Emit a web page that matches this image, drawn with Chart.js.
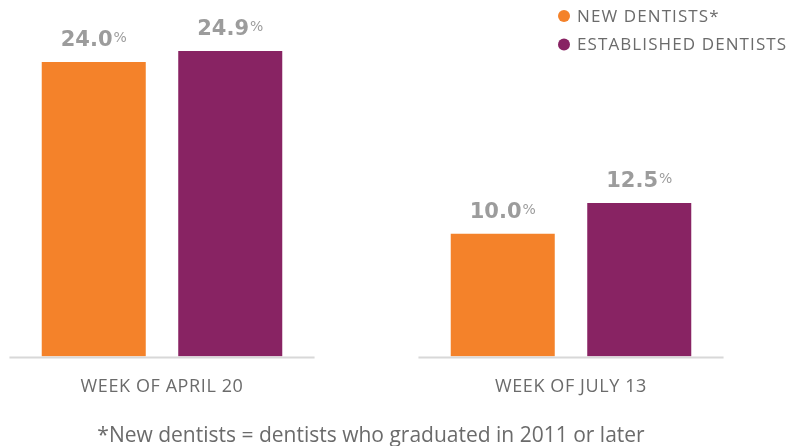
<!DOCTYPE html>
<html>
<head>
<meta charset="utf-8">
<script src="https://cdn.jsdelivr.net/npm/chart.js@4.4.1/dist/chart.umd.min.js"></script>
<style>
  html, body { margin: 0; padding: 0; background: #fff; }
  #wrap { width: 788px; height: 446px; }
</style>
</head>
<body>
<div id="wrap"><canvas id="dentistChart"></canvas></div>
<script>
// данные
const weeks = ['WEEK OF APRIL 20', 'WEEK OF JULY 13'];
const seriesNames = ['NEW DENTISTS*', 'ESTABLISHED DENTISTS'];
const newDentists = [24.0, 10.0];
const establishedDentists = [24.9, 12.5];
const footnote = '*New dentists = dentists who graduated in 2011 or later';

const ORANGE = '#F4822A';
const PURPLE = '#882363';
const TEXT = '#6b6b6b';
const VALUE = '#9c9c9c';

// центр первой группы и шаг между группами (в пикселях)
const firstCenter = 162;
const groupStep = 409;
const chartWidth = 788;

// немного разрядки для подписей оси
const spacing = {
  id: 'spacing',
  beforeDraw(chart) {
    chart.ctx.letterSpacing = '0.6px';
  }
};

// Подписи значений над столбцами
const valueLabels = {
  id: 'valueLabels',
  afterDatasetsDraw(chart) {
    const {ctx} = chart;
    ctx.save();
    ctx.letterSpacing = '0px';
    chart.data.datasets.forEach((ds, di) => {
      chart.getDatasetMeta(di).data.forEach((bar, i) => {
        const num = ds.data[i].y.toFixed(1);
        ctx.font = 'bold 21px "DejaVu Sans"';
        const wNum = ctx.measureText(num).width;
        ctx.font = '14px "DejaVu Sans"';
        const wPct = ctx.measureText('%').width;
        const x0 = bar.x - (wNum + 1 + wPct) / 2;
        const base = bar.y - 16;
        ctx.fillStyle = VALUE;
        ctx.textAlign = 'left';
        ctx.textBaseline = 'alphabetic';
        ctx.font = 'bold 21px "DejaVu Sans"';
        ctx.fillText(num, x0, base);
        ctx.font = '14px "DejaVu Sans"';
        ctx.fillText('%', x0 + wNum + 1, base - 4);
      });
    });
    ctx.restore();
  }
};

// Линия основания под каждой группой, легенда и сноска
const extras = {
  id: 'extras',
  afterDraw(chart) {
    const {ctx, scales: {x, y}} = chart;
    ctx.save();
    ctx.strokeStyle = '#d8d8d8';
    ctx.lineWidth = 2;
    const half = groupStep * 0.373;
    const yBase = y.getPixelForValue(0) + 1;
    weeks.forEach((w, i) => {
      const cx = x.getPixelForValue(i);
      ctx.beginPath();
      ctx.moveTo(cx - half, yBase);
      ctx.lineTo(cx + half, yBase);
      ctx.stroke();
    });

    // легенда
    ctx.font = '17px "Open Sans"';
    ctx.letterSpacing = '1.1px';
    ctx.textAlign = 'left';
    ctx.textBaseline = 'middle';
    chart.data.datasets.forEach((ds, i) => {
      const ly = 16 + i * 28.5;
      ctx.fillStyle = ds.backgroundColor;
      ctx.beginPath();
      ctx.arc(564, ly, 6, 0, Math.PI * 2);
      ctx.fill();
      ctx.fillStyle = TEXT;
      ctx.fillText(ds.label, 577, ly + 1);
    });

    // сноска
    ctx.font = '21px "Open Sans"';
    ctx.letterSpacing = '0px';
    ctx.textAlign = 'center';
    ctx.textBaseline = 'alphabetic';
    ctx.fillStyle = TEXT;
    ctx.fillText(footnote, 371, 442);
    ctx.restore();
  }
};

const toPoints = arr => arr.map((v, i) => ({x: i, y: v}));

new Chart(document.getElementById('dentistChart'), {
  type: 'bar',
  data: {
    datasets: [
      {label: seriesNames[0], data: toPoints(newDentists), backgroundColor: ORANGE},
      {label: seriesNames[1], data: toPoints(establishedDentists), backgroundColor: PURPLE}
    ]
  },
  options: {
    responsive: true,
    maintainAspectRatio: false,
    animation: false,
    categoryPercentage: 0.6675,
    barPercentage: 0.762,
    layout: { padding: { top: 13, bottom: 28, left: 0, right: 0 } },
    plugins: {
      legend: { display: false },
      tooltip: { enabled: false }
    },
    scales: {
      x: {
        type: 'linear',
        offset: false,
        min: -firstCenter / groupStep,
        max: (chartWidth - firstCenter) / groupStep,
        grid: { display: false, drawTicks: false, offset: false },
        border: { display: false },
        afterBuildTicks(scale) {
          scale.ticks = weeks.map((w, i) => ({value: i}));
        },
        ticks: {
          maxRotation: 0,
          autoSkip: false,
          padding: 20,
          color: TEXT,
          font: { family: '"Open Sans"', size: 18 },
          callback: (v, i) => weeks[i]
        }
      },
      y: {
        display: false,
        min: 0,
        max: 28
      }
    }
  },
  plugins: [spacing, valueLabels, extras]
});
</script>
</body>
</html>
